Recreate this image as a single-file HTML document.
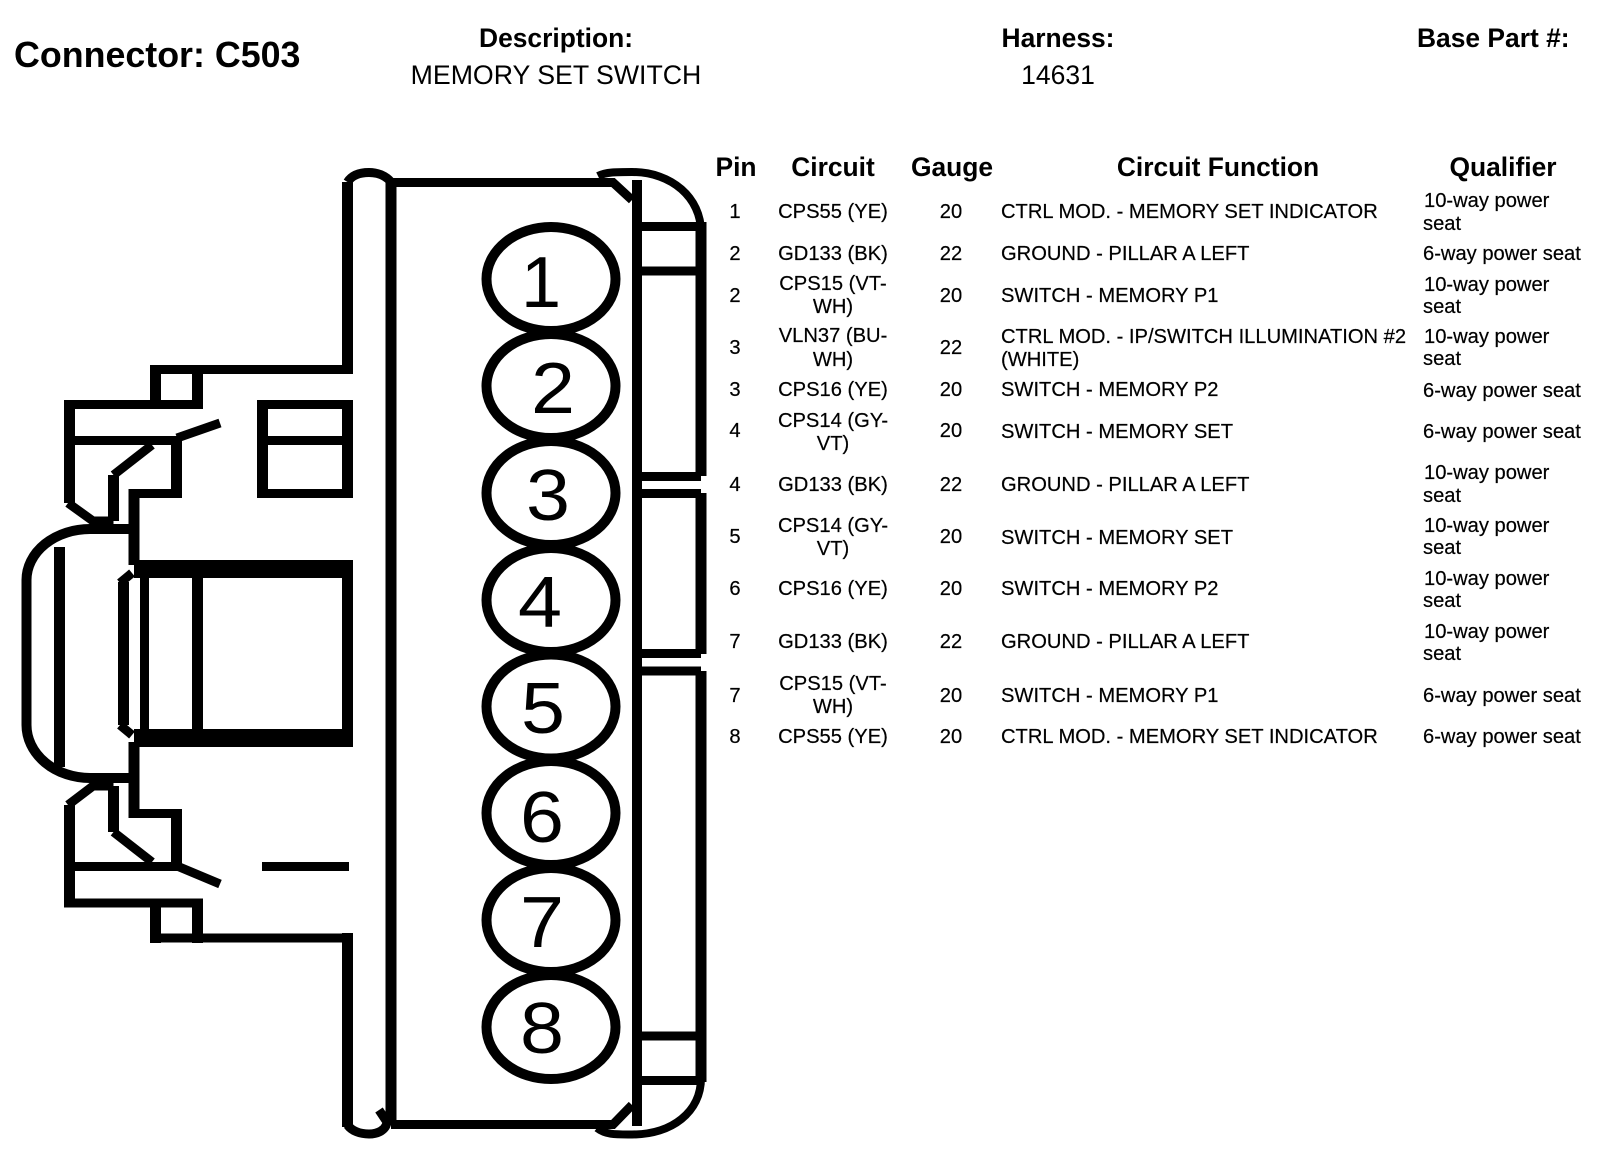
<!DOCTYPE html>
<html><head><meta charset="utf-8"><style>
html,body{margin:0;padding:0;background:#fff}
svg{display:block}
text{font-family:"Liberation Sans",Arial,sans-serif;fill:#000}
.b{font-weight:bold;font-size:26.4px}
.t{font-size:20.15px;stroke:#000;stroke-width:.2}
.d{font-size:72px}
.m{text-anchor:middle}
</style></head><body>
<svg xmlns="http://www.w3.org/2000/svg" width="1600" height="1150" viewBox="0 0 1600 1150">
<rect width="1600" height="1150" fill="#fff"/>
<g fill="none" stroke="#000" stroke-width="9">
<!-- horizontals and diagonals, housing -->
<path d="M342 369.500H156M64 404.500H203M64 440.500H177M134 493.500H181"/>
<path d="M342 938H156M64 903H203M64 866.500H177M134 813.500H181"/>
<path d="M113.500 475L152 445M68 503L93 521H113.500M113.500 832L152 862M68 805L93 786H113.500"/>
<path d="M177 438L220 423M177 866L220 884"/>
<!-- verticals, housing -->
<g stroke-width="11">
<path d="M347.500 182V374M155.500 365V409M197.500 365V409M69.500 400V503M176.500 436V498M134 489V565M113.500 475V521"/>
<path d="M347.500 933V1127M155.500 899V943M197.500 899V943M69.500 907V805M176.500 871V809M134 818V742M113.500 786V832"/>
<path d="M262.500 400V498M347.500 400V498M347.500 565V747M197.500 578V729M123.500 582V725M59.500 547V767"/>
</g>
<path d="M144.500 578V729"/>
<!-- window boxes -->
<path d="M257 404.500H353M257 440.500H353M257 493.500H353"/>
<path d="M262 866.500H349"/>
<!-- big rect -->
<path d="M134 569H353M134 738H353" stroke-width="18"/>
<path d="M120 583L132 573M120 725L132 735"/>
<!-- rounded left -->
<path d="M130 529H90A63.500 51 0 0 0 26.500 580V725A63.500 53 0 0 0 90 778H130" stroke-width="10"/>
<!-- top/bottom bumps -->
<path d="M347.500 182C352 175 360 172.500 369 172.500C378 172.500 386 176 391 182"/>
<path d="M347.500 1125C352 1131 360 1134 369 1134C378 1134 386 1130 387 1122L379 1110"/>
<path d="M391 178V1120" stroke-width="11"/>
<!-- body top & bottom -->
<path d="M391 182.500H613L632 200M391 1124.500H613L632 1105"/>
<path d="M598 176C606 172 616 172 632 172C672 172 701 198 701 232" stroke-width="8"/>
<path d="M597 1128C606 1135 616 1134.500 632 1134.500C672 1134.500 701 1112 701 1078" stroke-width="8"/>
<!-- right column -->
<path d="M637 180V1126" stroke-width="10"/>
<path d="M701 222V476M701 493V654M701 671V1082" stroke-width="11"/>
<path d="M637 226.500H701M637 271H701M637 476.500H701M637 493.500H701M637 653.500H701M637 671H701M637 1036H701M637 1080.500H701"/>
<!-- pins -->
<g stroke-width="10">
<ellipse cx="551" cy="279" rx="64.500" ry="52"/>
<ellipse cx="551" cy="386" rx="64.500" ry="52"/>
<ellipse cx="551" cy="493" rx="64.500" ry="52"/>
<ellipse cx="551" cy="600" rx="64.500" ry="52"/>
<ellipse cx="551" cy="706.500" rx="64.500" ry="52"/>
<ellipse cx="551" cy="813" rx="64.500" ry="52"/>
<ellipse cx="551" cy="920" rx="64.500" ry="52"/>
<ellipse cx="551" cy="1027" rx="64.500" ry="52"/>
</g>
</g>
<g class="d">
<text class="d m" x="541" y="307">1</text>
<text class="d m" x="553" y="413" textLength="44" lengthAdjust="spacingAndGlyphs">2</text>
<text class="d m" x="548" y="520" textLength="44" lengthAdjust="spacingAndGlyphs">3</text>
<text class="d m" x="540" y="627" textLength="44" lengthAdjust="spacingAndGlyphs">4</text>
<text class="d m" x="543" y="733" textLength="44" lengthAdjust="spacingAndGlyphs">5</text>
<text class="d m" x="542" y="842" textLength="44" lengthAdjust="spacingAndGlyphs">6</text>
<text class="d m" x="542" y="947" textLength="44" lengthAdjust="spacingAndGlyphs">7</text>
<text class="d m" x="542" y="1053" textLength="44" lengthAdjust="spacingAndGlyphs">8</text>
</g>
<!-- header -->
<text x="14" y="67" font-weight="bold" font-size="35.800">Connector: C503</text>
<text class="b m" x="556" y="47">Description:</text>
<text class="m" x="556" y="84" font-size="26.700">MEMORY SET SWITCH</text>
<text class="b m" x="1058" y="47">Harness:</text>
<text class="m" x="1058" y="84" font-size="26.500">14631</text>
<text class="b" x="1417" y="47">Base Part #:</text>
<text class="b m" x="736" y="176">Pin</text>
<text class="b m" x="833" y="176">Circuit</text>
<text class="b m" x="952" y="176">Gauge</text>
<text class="b m" x="1218" y="176">Circuit Function</text>
<text class="b m" x="1503" y="176">Qualifier</text>
<g class="t">
<!-- pin column -->
<text class="t m" x="735" y="218">1</text>
<text class="t m" x="735" y="260">2</text>
<text class="t m" x="735" y="302">2</text>
<text class="t m" x="735" y="354">3</text>
<text class="t m" x="735" y="396">3</text>
<text class="t m" x="735" y="437">4</text>
<text class="t m" x="735" y="491">4</text>
<text class="t m" x="735" y="543">5</text>
<text class="t m" x="735" y="595">6</text>
<text class="t m" x="735" y="648">7</text>
<text class="t m" x="735" y="702">7</text>
<text class="t m" x="735" y="743">8</text>
<!-- circuit column -->
<text class="t m" x="833" y="218">CPS55 (YE)</text>
<text class="t m" x="833" y="260">GD133 (BK)</text>
<text class="t m" x="833" y="290">CPS15 (VT-</text>
<text class="t m" x="833" y="313">WH)</text>
<text class="t m" x="833" y="342">VLN37 (BU-</text>
<text class="t m" x="833" y="366">WH)</text>
<text class="t m" x="833" y="396">CPS16 (YE)</text>
<text class="t m" x="833" y="427">CPS14 (GY-</text>
<text class="t m" x="833" y="450">VT)</text>
<text class="t m" x="833" y="491">GD133 (BK)</text>
<text class="t m" x="833" y="532">CPS14 (GY-</text>
<text class="t m" x="833" y="555">VT)</text>
<text class="t m" x="833" y="595">CPS16 (YE)</text>
<text class="t m" x="833" y="648">GD133 (BK)</text>
<text class="t m" x="833" y="690">CPS15 (VT-</text>
<text class="t m" x="833" y="713">WH)</text>
<text class="t m" x="833" y="743">CPS55 (YE)</text>
<!-- gauge column -->
<text class="t m" x="951" y="218">20</text>
<text class="t m" x="951" y="260">22</text>
<text class="t m" x="951" y="302">20</text>
<text class="t m" x="951" y="354">22</text>
<text class="t m" x="951" y="396">20</text>
<text class="t m" x="951" y="437">20</text>
<text class="t m" x="951" y="491">22</text>
<text class="t m" x="951" y="543">20</text>
<text class="t m" x="951" y="595">20</text>
<text class="t m" x="951" y="648">22</text>
<text class="t m" x="951" y="702">20</text>
<text class="t m" x="951" y="743">20</text>
<!-- function column -->
<text class="t" x="1001" y="218">CTRL MOD. - MEMORY SET INDICATOR</text>
<text class="t" x="1001" y="260">GROUND - PILLAR A LEFT</text>
<text class="t" x="1001" y="302">SWITCH - MEMORY P1</text>
<text class="t" x="1001" y="343">CTRL MOD. - IP/SWITCH ILLUMINATION #2</text>
<text class="t" x="1001" y="366">(WHITE)</text>
<text class="t" x="1001" y="396">SWITCH - MEMORY P2</text>
<text class="t" x="1001" y="438">SWITCH - MEMORY SET</text>
<text class="t" x="1001" y="491">GROUND - PILLAR A LEFT</text>
<text class="t" x="1001" y="544">SWITCH - MEMORY SET</text>
<text class="t" x="1001" y="595">SWITCH - MEMORY P2</text>
<text class="t" x="1001" y="648">GROUND - PILLAR A LEFT</text>
<text class="t" x="1001" y="702">SWITCH - MEMORY P1</text>
<text class="t" x="1001" y="743">CTRL MOD. - MEMORY SET INDICATOR</text>
<!-- qualifier column -->
<text class="t" x="1424" y="207">10-way power</text>
<text class="t" x="1423" y="230">seat</text>
<text class="t" x="1423" y="260">6-way power seat</text>
<text class="t" x="1424" y="291">10-way power</text>
<text class="t" x="1423" y="313">seat</text>
<text class="t" x="1424" y="343">10-way power</text>
<text class="t" x="1423" y="365">seat</text>
<text class="t" x="1423" y="397">6-way power seat</text>
<text class="t" x="1423" y="438">6-way power seat</text>
<text class="t" x="1424" y="479">10-way power</text>
<text class="t" x="1423" y="502">seat</text>
<text class="t" x="1424" y="532">10-way power</text>
<text class="t" x="1423" y="554">seat</text>
<text class="t" x="1424" y="585">10-way power</text>
<text class="t" x="1423" y="607">seat</text>
<text class="t" x="1424" y="638">10-way power</text>
<text class="t" x="1423" y="660">seat</text>
<text class="t" x="1423" y="702">6-way power seat</text>
<text class="t" x="1423" y="743">6-way power seat</text>
</g>
</svg>
</body></html>
